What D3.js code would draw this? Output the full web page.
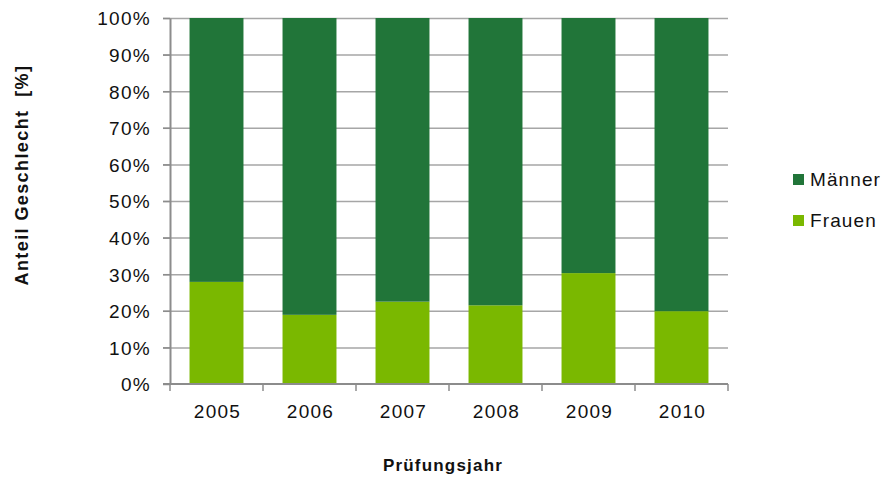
<!DOCTYPE html>
<html>
<head>
<meta charset="utf-8">
<script src="https://d3js.org/d3.v7.min.js"></script>
<style>
  body { margin: 0; background: #fff; }
  text { font-family: "Liberation Sans", Arial, sans-serif; fill: #111; }
</style>
</head>
<body>
<div id="chart"></div>
<script>
// values (percent)
var years = ["2005", "2006", "2007", "2008", "2009", "2010"];
var frauen = [27.9, 18.9, 22.5, 21.5, 30.3, 19.9];
var maenner = [72.1, 81.1, 77.5, 78.5, 69.7, 80.1];
var yTicks = [0, 10, 20, 30, 40, 50, 60, 70, 80, 90, 100];
var seriesNames = ["Männer", "Frauen"];
var colors = {"Männer": "#217539", "Frauen": "#7ab800"};

var width = 885, height = 480;
var plotLeft = 170, plotRight = 728, plotTop = 18, plotBottom = 384;

var svg = d3.select("#chart").append("svg")
    .attr("width", width)
    .attr("height", height);

var x = d3.scaleBand().domain(years).range([plotLeft, plotRight]).paddingInner(0.42).paddingOuter(0.21);
var y = d3.scaleLinear().domain([0, 100]).range([plotBottom, plotTop]);

// grid lines
svg.append("g").selectAll("line")
    .data(yTicks.filter(function(d) { return d > 0; }))
  .enter().append("line")
    .attr("x1", plotLeft - 7).attr("x2", plotRight)
    .attr("y1", function(d) { return y(d) + 0.5; })
    .attr("y2", function(d) { return y(d) + 0.5; })
    .style("stroke", "#a6a6a6").style("stroke-width", 1.5);

// stacked bars
var rows = years.map(function(yr, i) {
  return {year: yr, "Frauen": frauen[i], "Männer": maenner[i]};
});
var stack = d3.stack().keys(["Frauen", "Männer"])(rows);

svg.append("g").selectAll("g")
    .data(stack)
  .enter().append("g")
    .style("fill", function(d) { return colors[d.key]; })
  .selectAll("rect")
    .data(function(d) { return d; })
  .enter().append("rect")
    .attr("x", function(d) { return x(d.data.year); })
    .attr("width", x.bandwidth())
    .attr("y", function(d) { return y(d[1]); })
    .attr("height", function(d) { return y(d[0]) - y(d[1]); });

// y axis
var yAxis = d3.axisLeft(y).tickValues(yTicks).tickSize(7).tickSizeOuter(0)
    .tickFormat(function(d) { return d + "%"; });
var gy = svg.append("g").attr("transform", "translate(" + plotLeft + ",0)").call(yAxis);
gy.select(".domain").style("stroke", "#8c8c8c").style("stroke-width", 2);
gy.selectAll(".tick line").style("stroke", "#8c8c8c").style("stroke-width", 1.5);
gy.selectAll(".tick text").attr("x", -19).attr("dy", "0.36em")
    .style("font-size", "19px").style("letter-spacing", "1.3px").style("fill", "#111")
    .style("font-family", "'Liberation Sans', Arial, sans-serif");

// x axis
var gx = svg.append("g").attr("transform", "translate(0," + plotBottom + ")");
gx.append("line").attr("x1", plotLeft - 7).attr("x2", plotRight).attr("y1", 0).attr("y2", 0)
    .style("stroke", "#8c8c8c").style("stroke-width", 2);
gx.selectAll(".xt")
    .data(d3.range(years.length + 1))
  .enter().append("line")
    .attr("x1", function(i) { return plotLeft + i * x.step(); })
    .attr("x2", function(i) { return plotLeft + i * x.step(); })
    .attr("y1", 0).attr("y2", 7)
    .style("stroke", "#8c8c8c").style("stroke-width", 1.5);
gx.selectAll(".xl")
    .data(years)
  .enter().append("text")
    .attr("x", function(d) { return x(d) + x.bandwidth() / 2 + 1; })
    .attr("y", 34)
    .attr("text-anchor", "middle")
    .style("font-size", "19px").style("letter-spacing", "1.3px")
    .text(function(d) { return d; });

// axis titles
svg.append("text")
    .attr("transform", "translate(28,175) rotate(-90)")
    .attr("text-anchor", "middle")
    .style("font-size", "18px").style("font-weight", "bold")
    .style("letter-spacing", "1.4px").style("white-space", "pre")
    .text("Anteil Geschlecht  [%]");
svg.append("text")
    .attr("x", 443).attr("y", 471)
    .attr("text-anchor", "middle")
    .style("font-size", "17px").style("font-weight", "bold")
    .style("letter-spacing", "1.2px")
    .text("Prüfungsjahr");

// legend
var legend = svg.append("g").selectAll("g")
    .data(seriesNames)
  .enter().append("g")
    .attr("transform", function(d, i) { return "translate(793," + (174 + i * 41) + ")"; });
legend.append("rect").attr("width", 11).attr("height", 11)
    .style("fill", function(d) { return colors[d]; });
legend.append("text").attr("x", 17).attr("y", 12)
    .style("font-size", "19px").style("letter-spacing", "1.1px")
    .text(function(d) { return d; });
</script>
</body>
</html>
